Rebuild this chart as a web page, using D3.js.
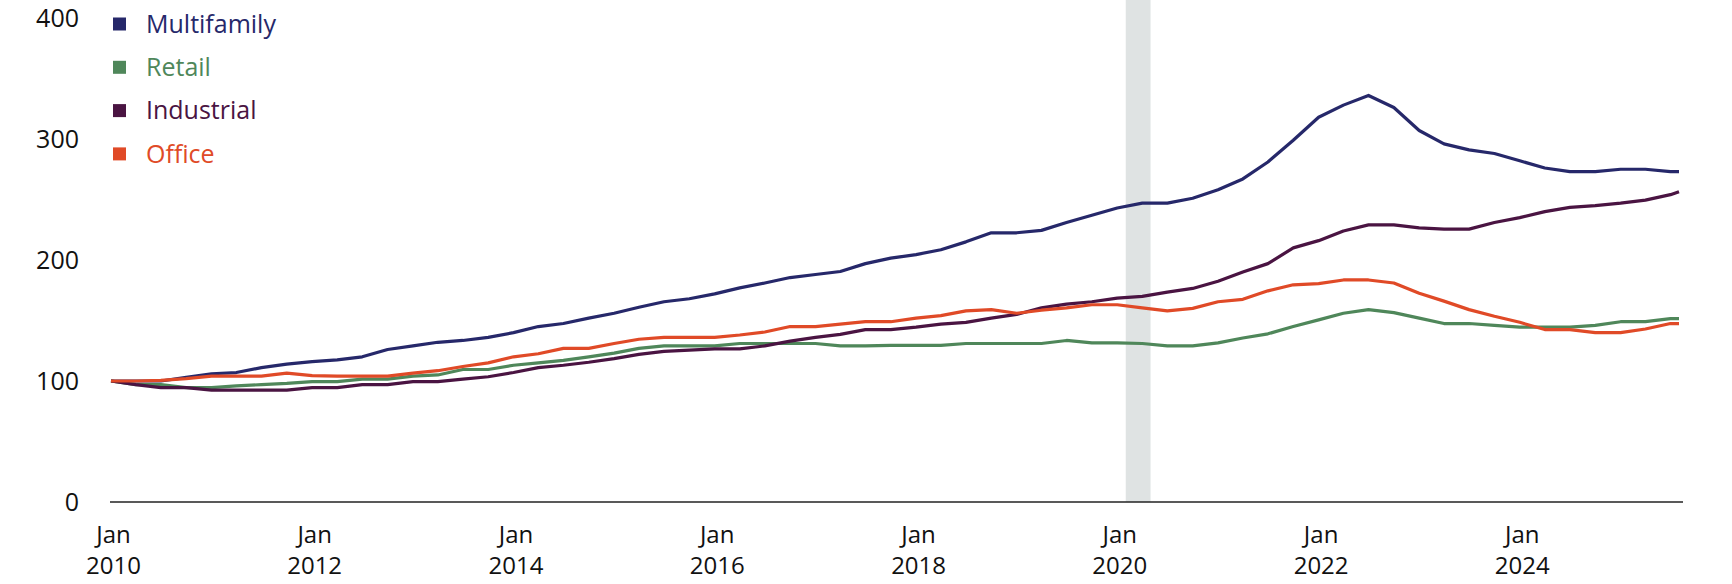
<!DOCTYPE html>
<html lang="en">
<head>
  <meta charset="UTF-8">
  <title>Property price indices</title>
  <script src="https://d3js.org/d3.v7.min.js"></script>
  <style>
    body { margin: 0; background: #fff; }
    svg text { font-family: "Open Sans", "Noto Sans", sans-serif; }
  </style>
</head>
<body>
  <div class="canvas"></div>
  <script>
    const width = 1732;
    const height = 584;

    // quarterly readings, Jan 2010 .. Jul 2025, plus the last month (Aug 2025)
    const dates = d3.timeMonth.every(3).range(new Date(2010, 0, 1), new Date(2025, 7, 1));
    dates.push(new Date(2025, 7, 1));

    const multifamily = [
      100, 100, 100, 103,
      106, 107, 111, 114,
      116, 117.5, 120, 126,
      129, 132, 133.5, 136,
      140, 145, 147.5, 152,
      156, 161, 165.5, 168,
      172, 177, 181, 185.5,
      188, 190.5, 197, 201.5,
      204.5, 208.5, 215, 222.5,
      222.5, 224.5, 231, 237,
      243, 247, 247, 251,
      258, 267, 281, 299,
      318, 328, 336, 326,
      307, 296, 291, 288,
      282, 276, 273, 273,
      275, 275, 273, 273
    ];
    const retail = [
      100, 97, 97, 94.5,
      94.5, 96, 97, 98,
      99.5, 99.5, 101.5, 101.5,
      104, 105, 109.5, 109.5,
      113, 115, 117, 120,
      123, 127, 129, 129,
      129, 131, 131, 131,
      131, 129, 129, 129.5,
      129.5, 129.5, 131, 131,
      131, 131, 133.5, 131.5,
      131.5, 131, 129, 129,
      131.5, 135.5, 139, 145,
      150.5, 156, 159, 156.5,
      152, 147.5, 147.5, 146,
      144.5, 144.5, 144.5, 146,
      149, 149, 151.5, 151.5
    ];
    const industrial = [
      100, 97, 94.5, 94.5,
      92.5, 92.5, 92.5, 92.5,
      94.5, 94.5, 97, 97,
      99.5, 99.5, 101.5, 103.5,
      107, 111, 113, 115.5,
      118.5, 122, 124.5, 125.5,
      126.5, 126.5, 129, 133,
      136, 138.5, 142.5, 142.5,
      144.5, 147, 148.5, 152,
      155, 160.5, 163.5, 165.5,
      168.5, 170, 173.5, 176.5,
      182.5, 190, 197, 210,
      216, 224, 229, 229,
      226.5, 225.5, 225.5, 231,
      235, 240, 243.5, 245,
      247, 249.5, 254, 256.5
    ];
    const office = [
      100, 100, 100.5, 102,
      104, 104, 104, 106.5,
      104.5, 104, 104, 104,
      106.5, 108.5, 112, 115,
      120, 122.5, 127, 127,
      131, 134.5, 136, 136,
      136, 138, 140.5, 145,
      145, 147, 149, 149,
      152, 154, 158, 159,
      156, 158.5, 160.5, 163,
      163, 160.5, 158, 160,
      165.5, 167.5, 174.5, 179.5,
      180.5, 183.5, 183.5, 181,
      172.5, 166, 159, 153.5,
      148.5, 142.5, 142.5, 140,
      140, 143, 147.5, 147.5
    ];

    const seriesNames = ['Multifamily', 'Retail', 'Industrial', 'Office'];
    const seriesValues = [multifamily, retail, industrial, office];
    const seriesColors = ['#26286a', '#4f875a', '#4a1442', '#e04a27'];

    const yTicks = [0, 100, 200, 300, 400];
    const xTickYears = [2010, 2012, 2014, 2016, 2018, 2020, 2022, 2024];
    const recession = [new Date(2020, 1, 1), new Date(2020, 4, 1)];

    const svg = d3.select('.canvas')
      .append('svg')
      .attr('width', width)
      .attr('height', height);

    const x = d3.scaleTime()
      .domain([new Date(2010, 0, 1), new Date(2025, 7, 1)])
      .range([111, 1679]);

    const y = d3.scaleLinear()
      .domain([0, 400])
      .range([502, 18]);

    // recession shading
    svg.append('rect')
      .attr('x', x(recession[0]))
      .attr('y', 0)
      .attr('width', x(recession[1]) - x(recession[0]))
      .attr('height', y(0))
      .attr('fill', '#dfe3e3');

    // y labels, no axis line
    const yAxisG = svg.append('g')
      .attr('transform', 'translate(79, 0)')
      .call(d3.axisLeft(y).tickValues(yTicks).tickSize(0).tickPadding(0));
    yAxisG.select('.domain').remove();
    yAxisG.selectAll('text')
      .attr('font-size', 25)
      .attr('fill', '#111');

    // x axis: baseline only, labels drawn as two separate texts per tick
    const xAxisG = svg.append('g')
      .attr('transform', `translate(0, ${y(0)})`)
      .call(d3.axisBottom(x)
        .tickValues(xTickYears.map(yr => new Date(yr, 0, 1)))
        .tickSize(0)
        .tickSizeOuter(0)
        .tickFormat(''));
    xAxisG.select('.domain')
      .attr('d', `M${x.range()[0] - 1},0H${x.range()[1] + 4}`)
      .attr('stroke', '#222')
      .attr('stroke-width', 1.5);
    xAxisG.selectAll('.tick text').remove();

    const tickG = xAxisG.selectAll('.tick');
    tickG.append('text')
      .attr('x', 2)
      .attr('y', 41)
      .attr('text-anchor', 'middle')
      .attr('font-size', 24)
      .attr('fill', '#111')
      .text('Jan');
    tickG.append('text')
      .attr('x', 2)
      .attr('y', 72)
      .attr('text-anchor', 'middle')
      .attr('font-size', 24)
      .attr('fill', '#111')
      .text(d => d.getFullYear());

    // lines
    const line = d3.line()
      .x((d, i) => x(dates[i]))
      .y(d => y(d));

    svg.selectAll('.series')
      .data(seriesValues)
      .enter()
      .append('path')
      .attr('class', 'series')
      .attr('d', d => line(d))
      .attr('fill', 'none')
      .attr('stroke', (d, i) => seriesColors[i])
      .attr('stroke-width', 3.2)
      .attr('stroke-linejoin', 'round');

    // legend
    const legend = svg.append('g')
      .selectAll('g')
      .data(seriesNames)
      .enter()
      .append('g')
      .attr('transform', (d, i) => `translate(113, ${24 + i * 43.3})`);

    legend.append('rect')
      .attr('x', 0)
      .attr('y', -6.5)
      .attr('width', 13)
      .attr('height', 13)
      .attr('fill', (d, i) => seriesColors[i]);

    legend.append('text')
      .attr('x', 33)
      .attr('dy', '0.35em')
      .attr('font-size', 25)
      .attr('fill', (d, i) => seriesColors[i])
      .text(d => d);
  </script>
</body>
</html>
